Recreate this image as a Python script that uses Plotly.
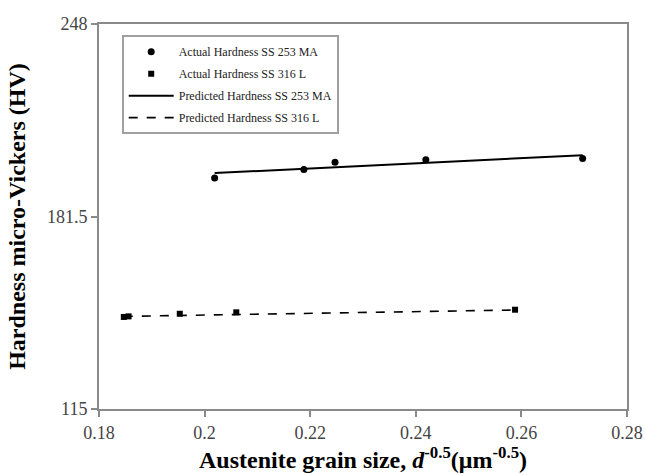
import plotly.graph_objects as go

# Data
x_253 = [0.2019, 0.2188, 0.2247, 0.2419, 0.2716]
y_253 = [194.8, 197.7, 200.2, 201.1, 201.5]
x_316 = [0.1847, 0.1856, 0.1953, 0.2060, 0.2588]
y_316 = [146.8, 147.0, 147.9, 148.4, 149.3]
xp_253 = [0.2019, 0.2716]
yp_253 = [196.5, 202.7]
xp_316 = [0.1847, 0.2588]
yp_316 = [147.0, 149.2]

x_ticks = [0.18, 0.2, 0.22, 0.24, 0.26, 0.28]
x_ticklabels = ["0.18", "0.2", "0.22", "0.24", "0.26", "0.28"]
y_ticks = [115, 181.5, 248]
y_ticklabels = ["115", "181.5", "248"]

names = ["Actual Hardness SS 253 MA", "Actual Hardness SS 316 L",
         "Predicted Hardness SS 253 MA", "Predicted Hardness SS 316 L"]

serif = "Liberation Serif, Times New Roman, serif"

fig = go.Figure()
fig.add_trace(go.Scatter(x=x_253, y=y_253, mode="markers", name=names[0],
                         legendgroup="a",
                         marker=dict(symbol="circle", size=7, color="black")))
fig.add_trace(go.Scatter(x=x_316, y=y_316, mode="markers", name=names[1],
                         legendgroup="b",
                         marker=dict(symbol="square", size=6, color="black")))
fig.add_trace(go.Scatter(x=xp_253, y=yp_253, mode="lines", name=names[2],
                         legendgroup="c",
                         line=dict(color="black", width=2)))
fig.add_trace(go.Scatter(x=xp_316, y=yp_316, mode="lines", name=names[3],
                         legendgroup="d",
                         line=dict(color="black", width=1.6, dash="dash")))

axis_common = dict(showline=True, linecolor="#8a8a8a", linewidth=2, mirror=True,
                   ticks="outside", tickcolor="#8a8a8a", ticklen=6, tickwidth=1.5,
                   showgrid=False, zeroline=False, automargin=False,
                   tickfont=dict(family=serif, size=18, color="#444444"))

fig.update_layout(
    width=645, height=475,
    margin=dict(l=99, r=18, t=24, b=66),
    paper_bgcolor="white", plot_bgcolor="white",
    showlegend=True,
    legend=dict(x=0.043, y=0.971, xanchor="left", yanchor="top",
                bgcolor="white", bordercolor="#a0a0a0", borderwidth=2,
                font=dict(family=serif, size=12, color="#222222"),
                tracegroupgap=3, itemwidth=45),
    xaxis=dict(range=[0.18, 0.28], tickvals=x_ticks, ticktext=x_ticklabels,
               title=dict(text="<b>Austenite grain size, <i>d</i><sup>-0.5</sup>(μm<sup>-0.5</sup>)</b>",
                          font=dict(family=serif, size=24, color="black"), standoff=4),
               **axis_common),
    yaxis=dict(range=[115, 248], tickvals=y_ticks, ticktext=y_ticklabels,
               title=dict(text="<b>Hardness micro-Vickers (HV)</b>",
                          font=dict(family=serif, size=24, color="black"), standoff=15),
               **axis_common),
)

fig.write_html("out.html")
